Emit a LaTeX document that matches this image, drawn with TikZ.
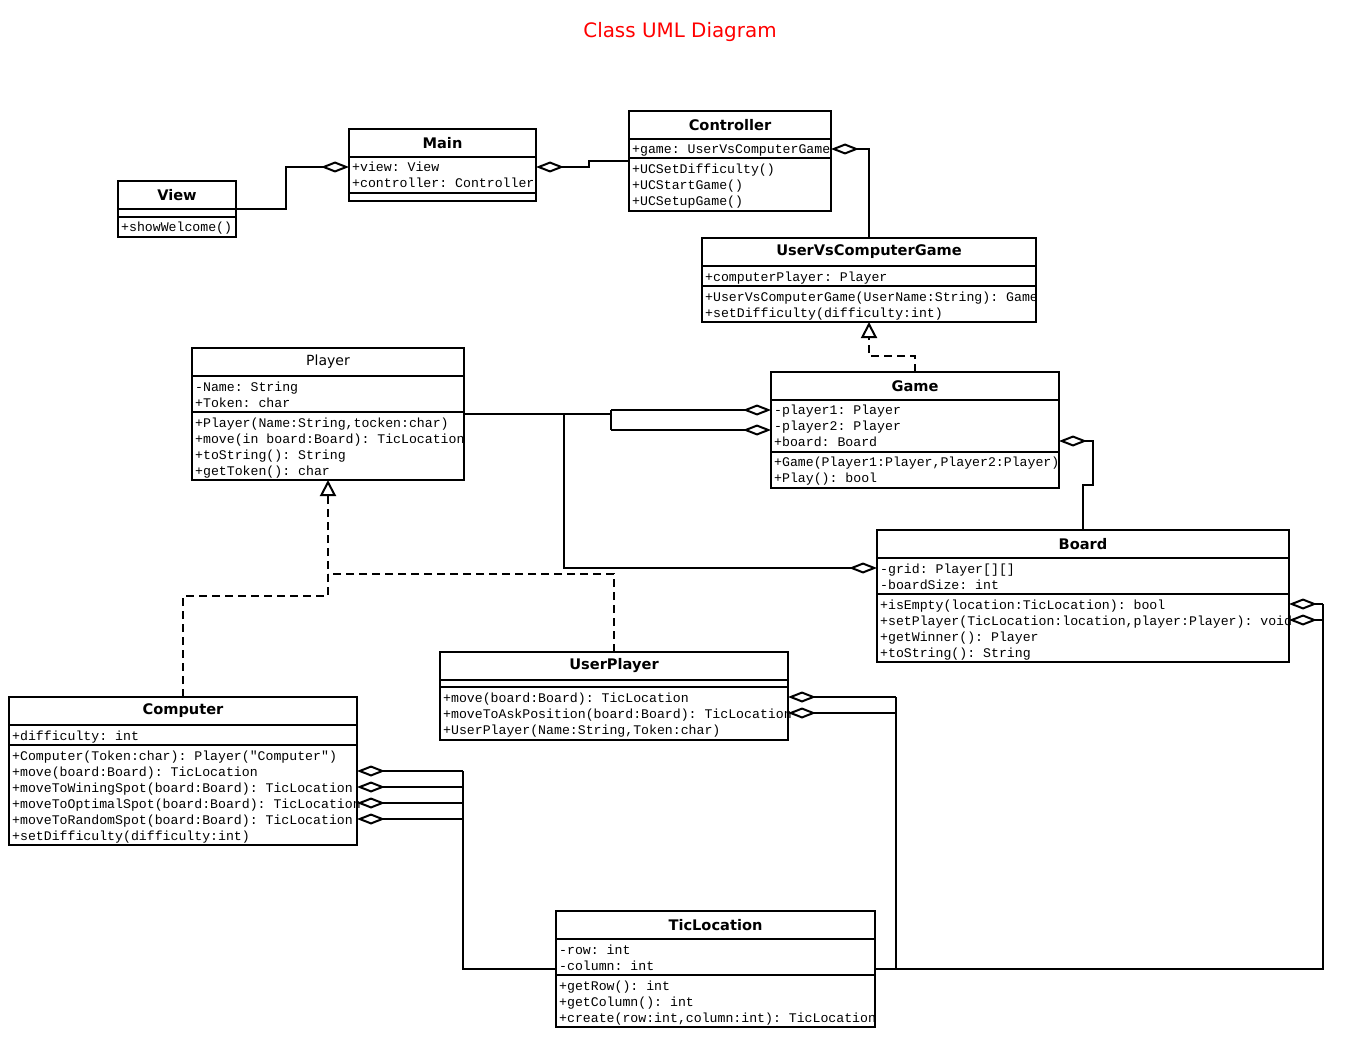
\documentclass[tikz,border=0pt]{standalone}
\usepackage{fontspec}
\setmainfont{DejaVu Sans}
\setmonofont{Liberation Mono}
\usetikzlibrary{arrows.meta}
\begin{document}
\begin{tikzpicture}[x=1pt,y=-1pt,
  box/.style={draw, line width=1.8pt, anchor=north west, inner sep=0pt, outer sep=0pt, fill=white},
  sep/.style={line width=1.8pt},
  cname/.style={font=\fontsize{14.6}{16}\selectfont\bfseries},
  pname/.style={font=\fontsize{14}{16}\selectfont},
  mem/.style={anchor=west, inner sep=0pt, font=\fontsize{13.2}{16}\ttfamily, text height=11pt, text depth=1pt},
  conn/.style={line width=2pt},
  agg/.style={conn, -{Diamond[length=28pt,width=11pt,fill=white]}},
  gendash/.style={conn, dash pattern=on 8pt off 5pt},
  gen/.style={gendash, -{Triangle[length=16pt,width=16pt,fill=white]}}
]
\useasboundingbox (0,0) rectangle (1355,1043);
\fill[white] (0,0) rectangle (1355,1043);

\node[text={rgb,255:red,255;green,0;blue,0}, font=\fontsize{19.9}{24}\selectfont] (title) at (680,32) {Class UML Diagram};

% View
\node[box, minimum width=118pt, minimum height=56pt] (view) at (118,181) {};
\draw[sep] (118,209) -- (236,209) (118,217) -- (236,217);
\node[cname] (viewname) at (177,195) {View};
\node[mem] (view1) at (121,227) {+showWelcome()};

% Main
\node[box, minimum width=187pt, minimum height=72pt] (main) at (349,129) {};
\draw[sep] (349,157) -- (536,157) (349,193) -- (536,193);
\node[cname] (mainname) at (442.5,143) {Main};
\node[mem] (main1) at (352,167) {+view: View};
\node[mem] (main2) at (352,183) {+controller: Controller};

% Controller
\node[box, minimum width=202pt, minimum height=100pt] (controller) at (629,111) {};
\draw[sep] (629,139) -- (831,139) (629,158) -- (831,158);
\node[cname] (controllername) at (730,125) {Controller};
\node[mem] (ctl1) at (632,149) {+game: UserVsComputerGame};
\node[mem] (ctl2) at (632,169) {+UCSetDifficulty()};
\node[mem] (ctl3) at (632,185) {+UCStartGame()};
\node[mem] (ctl4) at (632,201) {+UCSetupGame()};

% UserVsComputerGame
\node[box, minimum width=334pt, minimum height=84pt] (uvcg) at (702,238) {};
\draw[sep] (702,266) -- (1036,266) (702,286) -- (1036,286);
\node[cname] (uvcgname) at (869,252) {UserVsComputerGame};
\node[mem] (uvcg1) at (705,276) {+computerPlayer: Player};
\node[mem] (uvcg2) at (705,296) {+UserVsComputerGame(UserName:String): Game};
\node[mem] (uvcg3) at (705,312) {+setDifficulty(difficulty:int)};

% Player
\node[box, minimum width=272pt, minimum height=132pt] (player) at (192,348) {};
\draw[sep] (192,376) -- (464,376) (192,412) -- (464,412);
\node[pname] (playername) at (328,362) {Player};
\node[mem] (pl1) at (195,386) {-Name: String};
\node[mem] (pl2) at (195,402) {+Token: char};
\node[mem] (pl3) at (195,422) {+Player(Name:String,tocken:char)};
\node[mem] (pl4) at (195,438) {+move(in board:Board): TicLocation};
\node[mem] (pl5) at (195,454) {+toString(): String};
\node[mem] (pl6) at (195,470) {+getToken(): char};

% Game
\node[box, minimum width=288pt, minimum height=116pt] (game) at (771,372) {};
\draw[sep] (771,400) -- (1059,400) (771,452) -- (1059,452);
\node[cname] (gamename) at (915,386) {Game};
\node[mem] (gm1) at (774,409) {-player1: Player};
\node[mem] (gm2) at (774,425) {-player2: Player};
\node[mem] (gm3) at (774,441) {+board: Board};
\node[mem] (gm4) at (774,461) {+Game(Player1:Player,Player2:Player)};
\node[mem] (gm5) at (774,477) {+Play(): bool};

% Board
\node[box, minimum width=412pt, minimum height=132pt] (board) at (877,530) {};
\draw[sep] (877,558) -- (1289,558) (877,594) -- (1289,594);
\node[cname] (boardname) at (1083,544) {Board};
\node[mem] (bd1) at (880,568) {-grid: Player[][]};
\node[mem] (bd2) at (880,584) {-boardSize: int};
\node[mem] (bd3) at (880,604) {+isEmpty(location:TicLocation): bool};
\node[mem] (bd4) at (880,620) {+setPlayer(TicLocation:location,player:Player): void};
\node[mem] (bd5) at (880,636) {+getWinner(): Player};
\node[mem] (bd6) at (880,652) {+toString(): String};

% UserPlayer
\node[box, minimum width=348pt, minimum height=88pt] (userplayer) at (440,652) {};
\draw[sep] (440,680) -- (788,680) (440,687) -- (788,687);
\node[cname] (upname) at (614,666) {UserPlayer};
\node[mem] (up1) at (443,697) {+move(board:Board): TicLocation};
\node[mem] (up2) at (443,713) {+moveToAskPosition(board:Board): TicLocation};
\node[mem] (up3) at (443,729) {+UserPlayer(Name:String,Token:char)};

% Computer
\node[box, minimum width=348pt, minimum height=148pt] (computer) at (9,697) {};
\draw[sep] (9,725) -- (357,725) (9,745) -- (357,745);
\node[cname] (compname) at (183,711) {Computer};
\node[mem] (cp1) at (12,735) {+difficulty: int};
\node[mem] (cp2) at (12,755) {+Computer(Token:char): Player("Computer")};
\node[mem] (cp3) at (12,771) {+move(board:Board): TicLocation};
\node[mem] (cp4) at (12,787) {+moveToWiningSpot(board:Board): TicLocation};
\node[mem] (cp5) at (12,803) {+moveToOptimalSpot(board:Board): TicLocation};
\node[mem] (cp6) at (12,819) {+moveToRandomSpot(board:Board): TicLocation};
\node[mem] (cp7) at (12,835) {+setDifficulty(difficulty:int)};

% TicLocation
\node[box, minimum width=319pt, minimum height=116pt] (ticloc) at (556,911) {};
\draw[sep] (556,939) -- (875,939) (556,975) -- (875,975);
\node[cname] (ticname) at (715.5,925) {TicLocation};
\node[mem] (tl1) at (559,949) {-row: int};
\node[mem] (tl2) at (559,965) {-column: int};
\node[mem] (tl3) at (559,985) {+getRow(): int};
\node[mem] (tl4) at (559,1001) {+getColumn(): int};
\node[mem] (tl5) at (559,1017) {+create(row:int,column:int): TicLocation};

% Connectors
\draw[agg] (view.east) -- (286,209) -- (286,167) -- (main.west |- 0,167);
\draw[agg] (controller.west |- 0,161) -- (589,161) -- (589,167) -- (main.east |- 0,167);
\draw[agg] (uvcg.north) -- (uvcg.north |- 0,149) -- (controller.east |- 0,149);
\draw[gen] (game.north) -- (game.north |- 0,356) -- (uvcg.south |- 0,356) -- (uvcg.south);

\coordinate (pj) at (611,414);
\draw[conn] (player.east |- pj) -- (pj);
\draw[conn] (611,410) -- (611,430);
\draw[agg] (611,410) -- (game.west |- 0,410);
\draw[agg] (611,430) -- (game.west |- 0,430);
\draw[agg] (564,414) -- (564,568) -- (board.west |- 0,568);

\draw[agg] (board.north) -- (board.north |- 0,485) -- (1093,485) -- (1093,441) -- (game.east |- 0,441);

\draw[conn] (ticloc.east |- 0,969) -- (1323,969) -- (1323,604);
\draw[agg] (1323,604) -- (board.east |- 0,604);
\draw[agg] (1323,620) -- (board.east |- 0,620);
\draw[conn] (896,969) -- (896,697);
\draw[agg] (896,697) -- (userplayer.east |- 0,697);
\draw[agg] (896,713) -- (userplayer.east |- 0,713);
\draw[conn] (ticloc.west |- 0,969) -- (463,969) -- (463,771);
\draw[agg] (463,771) -- (computer.east |- 0,771);
\draw[agg] (463,787) -- (computer.east |- 0,787);
\draw[agg] (463,803) -- (computer.east |- 0,803);
\draw[agg] (463,819) -- (computer.east |- 0,819);

\draw[gendash] (userplayer.north) -- (userplayer.north |- 0,574) -- (player.south |- 0,574);
\draw[gen] (computer.north) -- (computer.north |- 0,596) -- (player.south |- 0,596) -- (player.south);
\end{tikzpicture}
\end{document}
